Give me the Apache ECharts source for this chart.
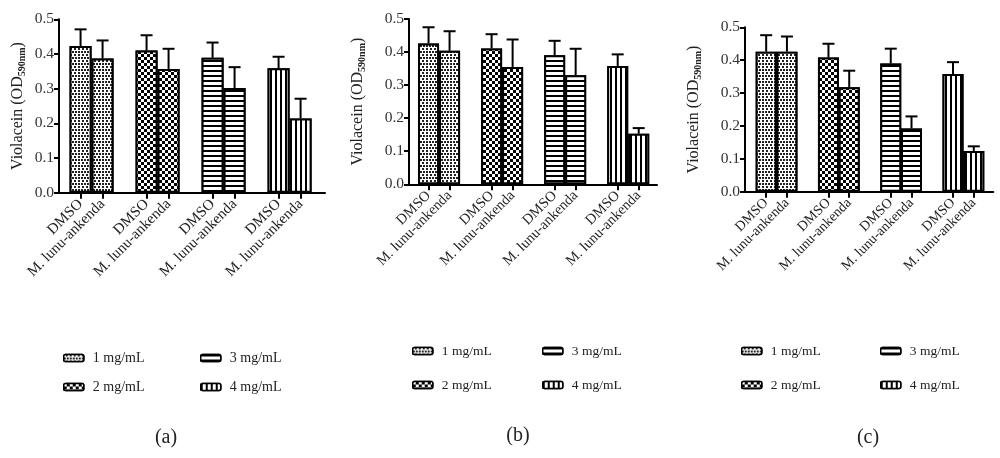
<!DOCTYPE html>
<html>
<head>
<meta charset="utf-8">
<script src="https://cdn.jsdelivr.net/npm/echarts@6/dist/echarts.min.js"></script>
<style>
html,body{margin:0;padding:0;background:#fff;}
#chart{width:1000px;height:458px;}
</style>
</head>
<body>
<div id="chart"></div>
<script>
// ---- data ----
const panelTitles = ['(a)', '(b)', '(c)'];
const concentrations = ['1 mg/mL', '2 mg/mL', '3 mg/mL', '4 mg/mL'];
const barLabels = ['DMSO', 'M. lunu-ankenda'];
const yTickLabels = ['0.0', '0.1', '0.2', '0.3', '0.4', '0.5'];

// panel (a)
const aDmsoMean = [0.423, 0.410, 0.389, 0.359];
const aDmsoErr  = [0.048, 0.044, 0.044, 0.033];
const aMlMean   = [0.387, 0.357, 0.302, 0.214];
const aMlErr    = [0.052, 0.058, 0.060, 0.057];
// panel (b)
const bDmsoMean = [0.426, 0.411, 0.390, 0.358];
const bDmsoErr  = [0.049, 0.043, 0.044, 0.035];
const bMlMean   = [0.404, 0.355, 0.330, 0.153];
const bMlErr    = [0.059, 0.083, 0.080, 0.017];
// panel (c)
const cDmsoMean = [0.426, 0.408, 0.390, 0.358];
const cDmsoErr  = [0.050, 0.042, 0.045, 0.036];
const cMlMean   = [0.426, 0.318, 0.192, 0.124];
const cMlErr    = [0.046, 0.050, 0.037, 0.014];

const panelData = [
  {dm: aDmsoMean, de: aDmsoErr, mm: aMlMean, me: aMlErr},
  {dm: bDmsoMean, de: bDmsoErr, mm: bMlMean, me: bMlErr},
  {dm: cDmsoMean, de: cDmsoErr, mm: cMlMean, me: cMlErr}
];

// ---- layout / style ----
const FONT = 'Liberation Serif';
const layouts = [
  {left: 59, top: 19.3, width: 266, height: 173.4, xmin: -0.98, xmax: 11.11, barW: 22, cap: 12, nameGap: 32, fs: 15, xfs: 15, ls: 14,
   legCols: [63, 200], legRows: [359, 388], titleX: 166, titleY: 438},
  {left: 409, top: 19, width: 248, height: 165.3, xmin: -0.93, xmax: 10.87, barW: 21, cap: 12, nameGap: 42, fs: 15, xfs: 14.5, ls: 13.5,
   legCols: [412, 542], legRows: [352, 386], titleX: 518, titleY: 436},
  {left: 745, top: 27.3, width: 248.3, height: 164.4, xmin: -1.02, xmax: 10.94, barW: 21, cap: 12, nameGap: 42, fs: 15, xfs: 14, ls: 13.5,
   legCols: [741, 880], legRows: [352, 386], titleX: 868, titleY: 438}
];

const decals = [
  {symbol: 'rect', symbolSize: 1, color: '#222', backgroundColor: '#fff',
   dashArrayX: [[1.6, 0.8], [0, 1.2, 1.6, 0]], dashArrayY: [1.6, 0.8]},
  {symbol: 'rect', symbolSize: 1, color: '#000', backgroundColor: '#fff',
   dashArrayX: [[3, 3], [0, 3, 3, 0]], dashArrayY: [3, 0]},
  {symbol: 'rect', symbolSize: 1, color: '#000', backgroundColor: '#fff',
   dashArrayX: [1, 0], dashArrayY: [1.3, 2.5]},
  {symbol: 'rect', symbolSize: 1, color: '#000', backgroundColor: '#fff',
   dashArrayX: [1.4, 2.4], dashArrayY: [1, 0]}
];

const slot = (g, k) => g * 3 + k;

const grid = [], xAxis = [], yAxis = [], series = [], legend = [], graphic = [];

layouts.forEach((L, p) => {
  const D = panelData[p];
  grid.push({left: L.left, top: L.top, width: L.width, height: L.height, containLabel: false});
  const ticks = [];
  concentrations.forEach((c, g) => { ticks.push(slot(g, 0), slot(g, 1)); });
  xAxis.push({
    type: 'value', gridIndex: p, min: L.xmin, max: L.xmax,
    splitLine: {show: false},
    axisLine: {show: true, onZero: false, lineStyle: {color: '#000', width: 2}},
    axisTick: {show: true, customValues: ticks, length: 6, lineStyle: {color: '#000', width: 2}},
    axisLabel: {
      show: true, customValues: ticks, rotate: 45, margin: 9, hideOverlap: false,
      showMinLabel: true, showMaxLabel: true,
      fontFamily: FONT, fontSize: L.xfs, color: '#222',
      formatter: v => barLabels[Math.round(v) % 3]
    }
  });
  yAxis.push({
    type: 'value', gridIndex: p, min: 0, max: 0.5, interval: 0.1,
    splitLine: {show: false},
    axisLine: {show: true, onZero: false, lineStyle: {color: '#000', width: 2}},
    axisTick: {show: true, length: 5, lineStyle: {color: '#000', width: 2}},
    axisLabel: {fontFamily: FONT, fontSize: L.fs + 0.5, color: '#333', margin: 5,
      formatter: v => yTickLabels[Math.round(v * 10)]},
    name: '{a|Violacein (OD}{b|590nm}{a|)}',
    nameLocation: 'middle', nameGap: L.nameGap,
    nameTextStyle: {
      fontFamily: FONT, fontSize: L.fs, color: '#222',
      rich: {
        a: {fontFamily: FONT, fontSize: L.fs + 1, color: '#222'},
        b: {fontFamily: FONT, fontSize: 10, fontWeight: 'bold', color: '#222', padding: [8, 0, 0, 0]}
      }
    }
  });

  concentrations.forEach((c, g) => {
    series.push({
      type: 'bar', name: c, xAxisIndex: p, yAxisIndex: p,
      barWidth: L.barW, barGap: '-100%',
      itemStyle: {color: '#fff', borderColor: '#000', borderWidth: 2, decal: decals[g]},
      emphasis: {disabled: true},
      data: [[slot(g, 0), D.dm[g]], [slot(g, 1), D.mm[g]]]
    });
  });

  const errData = [];
  concentrations.forEach((c, g) => {
    errData.push([slot(g, 0), D.dm[g], D.de[g]]);
    errData.push([slot(g, 1), D.mm[g], D.me[g]]);
  });
  const cap = L.cap;
  series.push({
    type: 'custom', xAxisIndex: p, yAxisIndex: p, z: 3,
    encode: {x: 0, y: 1},
    data: errData,
    renderItem: (params, api) => {
      const x = api.value(0), m = api.value(1), e = api.value(2);
      const b = api.coord([x, m]);
      const t = api.coord([x, m + e]);
      return {type: 'group', children: [
        {type: 'line', shape: {x1: b[0], y1: b[1], x2: t[0], y2: t[1]}, style: {stroke: '#000', lineWidth: 2}},
        {type: 'line', shape: {x1: t[0] - cap / 2, y1: t[1], x2: t[0] + cap / 2, y2: t[1]}, style: {stroke: '#000', lineWidth: 2}}
      ]};
    }
  });

  concentrations.forEach((c, g) => {
    const col = Math.floor(g / 2), row = g % 2;
    legend.push({
      data: [c], left: L.legCols[col], top: L.legRows[row] - 8,
      padding: 0, itemWidth: 20, itemHeight: 7, itemGap: 8,
      selectedMode: false,
      itemStyle: {color: '#000', borderColor: '#000', borderWidth: 1.5},
      textStyle: {fontFamily: FONT, fontSize: L.ls, color: '#222', padding: [0, 0, 0, 4]}
    });
  });

  graphic.push({
    type: 'text', x: L.titleX, y: L.titleY,
    style: {text: panelTitles[p], fontFamily: FONT, fontSize: 20, fill: '#222', align: 'center', verticalAlign: 'middle'}
  });
});

const chart = echarts.init(document.getElementById('chart'), null, {renderer: 'canvas'});
chart.setOption({
  animation: false,
  backgroundColor: '#fff',
  grid, xAxis, yAxis, series, legend, graphic
});
</script>
</body>
</html>
